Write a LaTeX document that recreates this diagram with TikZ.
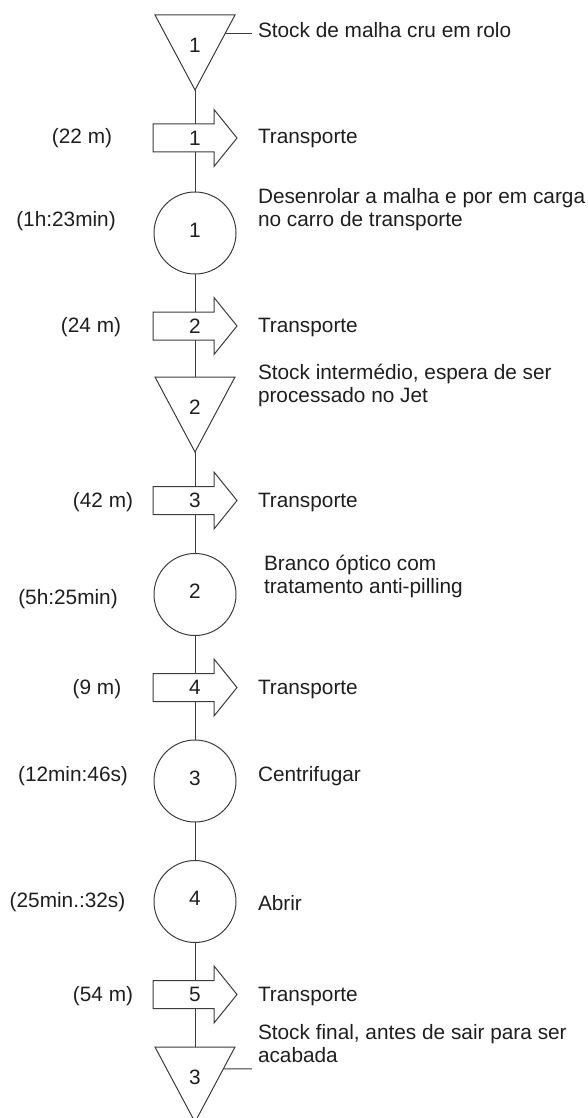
\documentclass[tikz,border=0pt]{standalone}
\usepackage{fontspec}
\setmainfont{Liberation Sans}
\usetikzlibrary{calc}
\definecolor{ink}{HTML}{1E1E1E}
\definecolor{edge}{HTML}{3C3C3C}
\begin{document}
\begin{tikzpicture}[x=1pt,y=1pt,
  txt/.style={font=\fontsize{20.8}{23}\selectfont, text=ink, inner sep=0pt, outer sep=0pt},
  note/.style={txt, anchor=base west, align=left},
  tag/.style={txt, anchor=base},
  storebox/.style={txt, minimum width=80pt, minimum height=75pt, text depth=14pt},
  opcircle/.style={txt, circle, draw=edge, line width=1pt, minimum size=82pt, text depth=6pt},
  movebox/.style={txt, minimum width=84pt, minimum height=28pt},
  outline/.style={draw=edge, line width=1pt, line join=miter},
  link/.style={draw=edge, line width=1pt}
]
\useasboundingbox (0,0) rectangle (588,-1118);

% process symbols along the flow line
\node[storebox] (t1) at (195,-52.5)  {1};
\node[movebox]  (a1) at (195,-138)   {1};
\node[opcircle] (c1) at (195,-233)   {1};
\node[movebox]  (a2) at (195,-326)   {2};
\node[storebox] (t2) at (195,-414.5) {2};
\node[movebox]  (a3) at (195,-500.5) {3};
\node[opcircle] (c2) at (195,-594.5) {2};
\node[movebox]  (a4) at (195,-687.5) {4};
\node[opcircle] (c3) at (195,-781)   {3};
\node[opcircle] (c4) at (195,-901.5) {4};
\node[movebox]  (a5) at (195,-994.5) {5};
\node[storebox] (t3) at (195,-1084.5) {3};

% storage triangles
\foreach \n in {t1,t2,t3}
  \draw[outline] (\n.north west) -- (\n.north east) -- (\n.south) -- cycle;

% transport arrows
\foreach \n in {a1,a2,a3,a4,a5}
  \draw[outline] (\n.north west) -- ($(\n.north east)+(-23,0)$) -- ++(0,14.5)
    -- (\n.east) -- ($(\n.south east)+(-23,-14.5)$) -- ++(0,14.5)
    -- (\n.south west) -- cycle;

% flow line
\foreach \u/\v in {t1/a1, a1/c1, c1/a2, a2/t2, t2/a3, a3/c2, c2/a4, a4/c3, c3/c4, c4/a5, a5/t3}
  \draw[link] (\u.south) -- (\v.north);

% descriptions
\node[note] (n1) at (258,-38)   {Stock de malha cru em rolo};
\node[note] (m1) at (258,-144)  {Transporte};
\node[note] (n2) at (258,-226)  {Desenrolar a malha e por em carga\\no carro de transporte};
\node[note] (m2) at (258,-332)  {Transporte};
\node[note] (n3) at (258,-402)  {Stock intermédio, espera de ser\\processado no Jet};
\node[note] (m3) at (258,-507)  {Transporte};
\node[note] (n4) at (264,-593)  {Branco óptico com\\tratamento anti-pilling};
\node[note] (m4) at (258,-694)  {Transporte};
\node[note] (n5) at (258,-781)  {Centrifugar};
\node[note] (n6) at (258,-910)  {Abrir};
\node[note] (m5) at (258,-1001) {Transporte};
\node[note] (n7) at (258,-1062) {Stock final, antes de sair para ser\\acabada};

% distances and durations
\node[tag] (d1) at (82,-144)   {(22 m)};
\node[tag] (h1) at (66,-226)   {(1h:23min)};
\node[tag] (d2) at (91,-332)   {(24 m)};
\node[tag] (d3) at (103,-507)  {(42 m)};
\node[tag] (h2) at (68,-604)   {(5h:25min)};
\node[tag] (d4) at (97,-694)   {(9 m)};
\node[tag] (h3) at (73,-781)   {(12min:46s)};
\node[tag] (h4) at (67.5,-907) {(25min.:32s)};
\node[tag] (d5) at (103,-1001) {(54 m)};

% leaders from storage symbols to their notes
\coordinate (k1) at (252,-33.75);
\coordinate (k3) at (252,-1068.75);
\draw[link] ($(t1.north east)!0.25!(t1.south)$) -- (k1);
\draw[link] ($(t3.north east)!0.29!(t3.south)$) -- (k3);
\end{tikzpicture}
\end{document}
